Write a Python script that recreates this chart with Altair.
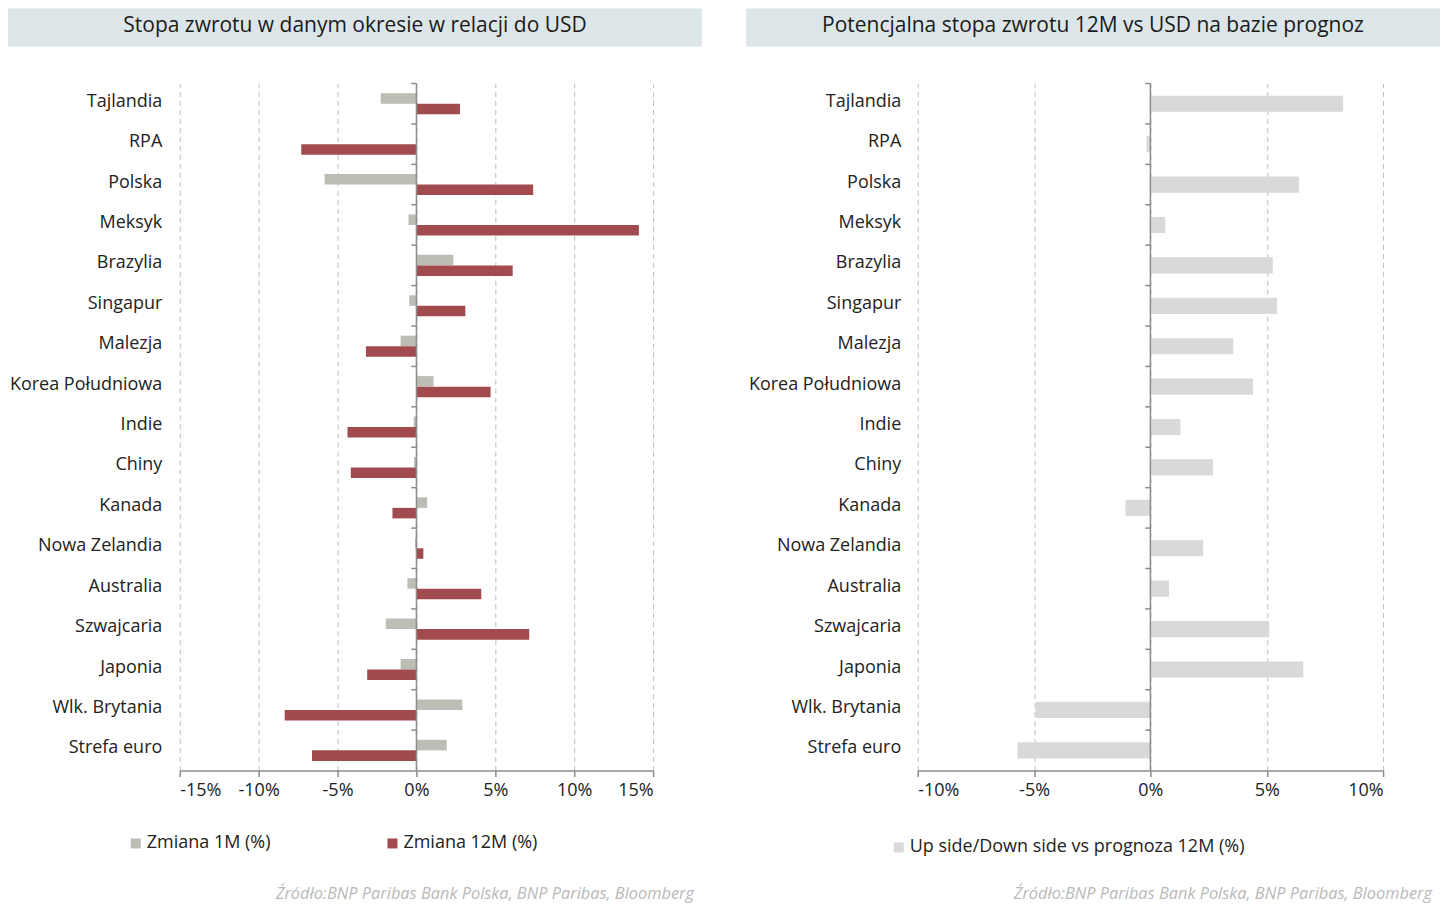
import altair as alt
import pandas as pd

countries = ["Tajlandia", "RPA", "Polska", "Meksyk", "Brazylia", "Singapur", "Malezja",
             "Korea Południowa", "Indie", "Chiny", "Kanada", "Nowa Zelandia", "Australia",
             "Szwajcaria", "Japonia", "Wlk. Brytania", "Strefa euro"]
zmiana_1m = [-2.26, 0.0, -5.82, -0.5, 2.34, -0.46, -1.0, 1.08, -0.17, -0.15, 0.68, -0.08,
             -0.57, -1.94, -1.0, 2.91, 1.92]
zmiana_12m = [2.76, -7.3, 7.4, 14.1, 6.1, 3.1, -3.2, 4.7, -4.37, -4.16, -1.52, 0.44,
              4.11, 7.15, -3.12, -8.35, -6.62]
upside = [8.28, -0.17, 6.38, 0.64, 5.26, 5.44, 3.56, 4.41, 1.29, 2.69, -1.07, 2.27,
          0.8, 5.11, 6.57, -4.94, -5.71]

series_left = ["Zmiana 1M (%)", "Zmiana 12M (%)"]
series_right = ["Up side/Down side vs prognoza 12M (%)"]
title_left = "Stopa zwrotu w danym okresie w relacji do USD"
title_right = "Potencjalna stopa zwrotu 12M vs USD na bazie prognoz"
source = "Źródło:BNP Paribas Bank Polska, BNP Paribas, Bloomberg"

FONT = "Open Sans"
GRAY1 = "#bcbdb4"
RED = "#a24b4e"
LIGHT = "#d9d9d9"
AXIS = "#8c8c8c"
BANNER = "#dce6e9"

left_df = pd.DataFrame({
    "country": countries * 2,
    "series": [series_left[0]] * len(countries) + [series_left[1]] * len(countries),
    "value": zmiana_1m + zmiana_12m,
})
right_df = pd.DataFrame({
    "country": countries,
    "series": series_right * len(countries),
    "value": upside,
})
cat_df = pd.DataFrame({"country": countries})
one_df = pd.DataFrame({"k": [0]})

H = 688


def y_enc(pad):
    return alt.Y(
        "country:N", sort=countries, title=None,
        scale=alt.Scale(paddingInner=0, paddingOuter=0),
        axis=alt.Axis(domain=False, ticks=False, labelFontSize=18,
                      labelFont=FONT, labelColor="#222222", labelPadding=pad,
                      labelOffset=-2, grid=False, labelLimit=300),
    )


def x_enc(lo, hi):
    return alt.X(
        "value:Q", title=None,
        scale=alt.Scale(domain=[lo, hi], nice=False),
        axis=alt.Axis(values=list(range(lo, hi + 1, 5)), labelExpr="datum.value + '%'",
                      labelFontSize=18, labelFont=FONT, labelColor="#222222",
                      domainColor=AXIS, domainWidth=1.5, tickColor=AXIS, tickSize=6,
                      tickWidth=1.5, labelPadding=5,
                      grid=True, gridDash=[5, 4], gridColor="#bdbdbd", gridWidth=1),
    )


def decorations(title, tick_len):
    banner = alt.Chart(one_df).mark_rect(color=BANNER, clip=False).encode(
        x=alt.value(-172), x2=alt.value(523), y=alt.value(-75), y2=alt.value(-37))
    ttl = alt.Chart(one_df).mark_text(font=FONT, fontSize=21, fontWeight=400,
                                      color="#1a1a1a", align="center",
                                      baseline="middle").encode(
        x=alt.value(175.5), y=alt.value(-58), text=alt.value(title))
    src = alt.Chart(one_df).mark_text(font=FONT, fontSize=16.4, fontStyle="italic",
                                      fontWeight=400, color="#b9b9b9", align="right",
                                      baseline="middle").encode(
        x=alt.value(515), y=alt.value(H + 124), text=alt.value(source))
    zero = alt.Chart(one_df).mark_rule(color=AXIS, strokeWidth=1.5).encode(
        x=alt.datum(0))
    ticks = alt.Chart(cat_df).mark_rule(color=AXIS, strokeWidth=1.5).encode(
        x=alt.datum(0), x2=alt.datum(-tick_len),
        y=alt.Y("country:N", sort=countries, bandPosition=0))
    return banner, ttl, src, zero, ticks


# Left panel
lb, lt, ls, lz, ltk = decorations(title_left, 0.33)
left_bars = alt.Chart(left_df).mark_bar().encode(
    x=x_enc(-15, 15),
    y=y_enc(18),
    yOffset=alt.YOffset("series:N", sort=series_left,
                        scale=alt.Scale(paddingInner=0, paddingOuter=0.92)),
    color=alt.Color("series:N", sort=series_left,
                    scale=alt.Scale(domain=series_left, range=[GRAY1, RED]),
                    legend=alt.Legend(title=None, orient="none", direction="horizontal",
                                      legendX=-53, legendY=H + 64, symbolType="square",
                                      symbolSize=100, symbolStrokeWidth=0,
                                      labelFontSize=18, labelFont=FONT,
                                      labelColor="#222222", columnPadding=113,
                                      labelOffset=2, labelLimit=500)),
)
left = alt.layer(lb, lt, left_bars, lz, ltk, ls).properties(width=474, height=H)

# Right panel
rb, rt, rs, rz, rtk = decorations(title_right, 0.22)
right_bars = alt.Chart(right_df).mark_bar(height={"band": 0.4}).encode(
    x=x_enc(-10, 10),
    y=y_enc(17),
    color=alt.Color("series:N",
                    scale=alt.Scale(domain=series_right, range=[LIGHT]),
                    legend=alt.Legend(title=None, orient="none", direction="horizontal",
                                      legendX=-28, legendY=H + 68, symbolType="square",
                                      symbolSize=100, symbolStrokeWidth=0,
                                      labelFontSize=18, labelFont=FONT,
                                      labelColor="#222222", labelOffset=2,
                                      labelLimit=600)),
)
right = alt.layer(rb, rt, right_bars, rz, rtk, rs).properties(width=466, height=H)

chart = alt.hconcat(left, right, spacing=44).resolve_scale(
    color="independent").resolve_legend(color="independent").properties(
    padding=0).configure_view(stroke=None)

chart.save("out.html", embed_options={"renderer": "svg", "actions": False})
